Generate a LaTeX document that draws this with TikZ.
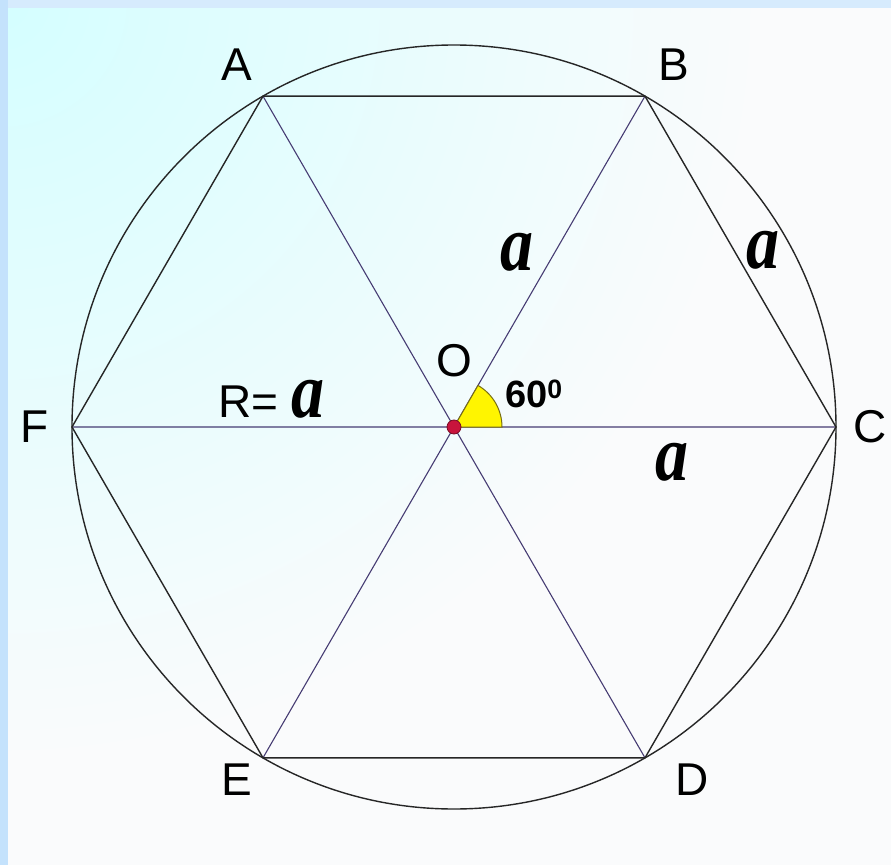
\documentclass[tikz,border=0pt]{standalone}
\usepackage{fontspec}
\setmainfont{Liberation Sans}
\newfontfamily\timesbi{Liberation Serif}
\usetikzlibrary{calc}
\definecolor{bgcyan}{RGB}{212,254,255}
\definecolor{bgwhite}{RGB}{250,251,252}
\definecolor{bgblue}{RGB}{196,226,252}
\definecolor{diagline}{RGB}{70,60,115}
\definecolor{sector}{RGB}{255,245,0}
\definecolor{sectoredge}{RGB}{120,110,20}
\definecolor{centredot}{RGB}{200,20,60}
\newcommand{\sidea}{\scalebox{1}[1.2]{a}}

\begin{document}
\begin{tikzpicture}[x=1pt, y=1pt,
      vlabel/.style={font=\fontsize{46}{46}\selectfont, inner sep=0pt},
      sidelab/.style={font=\fontsize{66}{66}\selectfont\timesbi\bfseries\itshape, inner sep=0pt},
      edge/.style={draw=black!85, line width=1.4pt},
      diag/.style={draw=diagline, line width=1.1pt}]
    % background
    \useasboundingbox (-454,-438) rectangle (437,427);
    \fill[bgwhite] (-454,-438) rectangle (437,427);
    \begin{scope}
      \clip (-454,-438) rectangle (437,427);
      \shade[inner color=bgcyan, outer color=bgwhite] (-454,427) circle (760);
    \end{scope}
    \fill[bgblue!70!white] (-454,419) rectangle (437,427);
    \fill[bgblue] (-454,-438) rectangle (-446,427);

    \coordinate (O) at (0,0);
    \foreach \name/\ang in {A/120, B/60, C/0, D/-60, E/-120, F/180}
      \coordinate (\name) at (\ang:382);

    % circle, hexagon and diagonals
    \draw[edge] (O) circle (382);
    \draw[diag] (A) -- (D) (B) -- (E) (F) -- (C);
    \draw[edge] (A) -- (B) -- (C) -- (D) -- (E) -- (F) -- cycle;

    % angle at O
    \filldraw[fill=sector, draw=sectoredge, line width=1pt] (O) -- (48,0) arc[start angle=0, end angle=60, radius=48] -- cycle;
    \filldraw[fill=centredot, draw=centredot!60!black, line width=0.8pt] (O) circle (7);

    % vertex labels
    \node[vlabel] (labA) at (-217,362) {A};
    \node[vlabel] (labB) at (220,362) {B};
    \node[vlabel] (labC) at (416,0) {C};
    \node[vlabel] (labD) at (238,-353) {D};
    \node[vlabel] (labE) at (-217,-353) {E};
    \node[vlabel] (labF) at (-419,0) {F};
    \node[vlabel] (labO) at (0,66) {O};
    \node[font=\fontsize{38}{38}\selectfont\bfseries, inner sep=0pt, anchor=west] (ang) at (51,33) {60\textsuperscript{0}};

    % side labels
    \node[vlabel, anchor=base west] (rad) at (-236,10) {R= {\timesbi\bfseries\itshape\fontsize{66}{66}\selectfont\sidea}};
    \node[sidelab] (sideOB) at (63,175) {\sidea};
    \node[sidelab] (sideBC) at (309,177) {\sidea};
    \node[sidelab] (sideOC) at (218,-35) {\sidea};
\end{tikzpicture}
\end{document}
